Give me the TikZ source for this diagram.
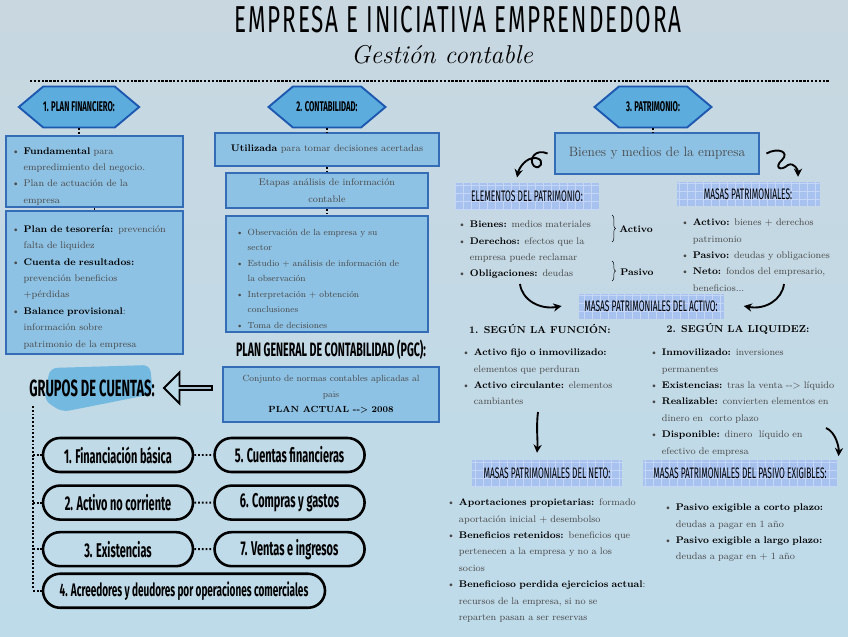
\documentclass[tikz,border=0pt]{standalone}
\usepackage{fontspec}
\usepackage{xcolor}
\usepackage{tikz}
\usetikzlibrary{shapes.geometric, shapes.misc, shapes.arrows, shapes.symbols, arrows.meta, positioning, decorations.pathreplacing}

\newfontfamily\blockfont[FakeStretch=0.55]{Fira Sans}
\newfontfamily\titlefont[FakeStretch=0.6, LetterSpace=5]{Fira Sans}

\definecolor{bgtop}{RGB}{200,215,224}
\definecolor{bgbot}{RGB}{190,219,234}
\definecolor{hexfill}{RGB}{92,172,222}
\definecolor{hexline}{RGB}{28,88,176}
\definecolor{boxfill}{RGB}{142,194,228}
\definecolor{boxline}{RGB}{52,108,182}
\definecolor{tapefill}{RGB}{168,194,240}
\definecolor{tapegrid}{RGB}{198,214,246}
\definecolor{brushblue}{RGB}{84,172,222}
\definecolor{bodytext}{RGB}{72,72,72}

\newcommand{\bk}[1]{\textcolor{black}{\textbf{#1}}}
\newcommand{\bul}[1]{\par\hangindent=10pt\hangafter=1\noindent\makebox[10pt][l]{\textbullet}#1\par}
\newcommand{\bodyfont}{\fontsize{8.2}{14}\selectfont}

\begin{document}
\begin{tikzpicture}[
    x=0.03cm, y=-0.03cm,
    hexa/.style={signal, signal to=west and east, signal pointer angle=80, draw=hexline, line width=1.6pt, fill=hexfill, minimum width=3.51cm, minimum height=1.23cm, inner sep=0pt, font=\blockfont\bfseries\fontsize{12}{12}\selectfont},
    infobox/.style={draw=boxline, line width=1.3pt, fill=boxfill, inner xsep=0.18cm, inner ysep=0pt, align=left, font=\bodyfont, text=bodytext},
    tape/.style={fill=tapefill, minimum height=0.8cm, inner sep=0pt, font=\blockfont\fontsize{13}{13}\selectfont, path picture={\draw[tapegrid, line width=0.7pt, step=0.24cm] (path picture bounding box.south west) grid (path picture bounding box.north east);}},
    pill/.style={rounded rectangle, draw=black, line width=2.2pt, minimum width=4.5cm, minimum height=1.02cm, inner sep=0pt, font=\blockfont\bfseries\fontsize{17}{17}\selectfont},
    listtxt/.style={anchor=north west, inner sep=0pt, align=left, font=\bodyfont, text=bodytext},
    dotline/.style={line width=1.6pt, dash pattern=on 1.6pt off 1.6pt, black},
    curly/.style={line width=1.6pt, -{Stealth[length=7pt, width=7pt]}, black}
]
\useasboundingbox (0,0) rectangle (848,636);
\shade[top color=bgtop, bottom color=bgbot] (0,0) rectangle (848,636);

% title
\node[font=\titlefont\fontsize{32}{32}\selectfont] (title) at (458,20) {EMPRESA E INICIATIVA EMPRENDEDORA};
\node[font=\itshape\fontsize{22}{22}\selectfont] (subtitle) at (442,55) {Gestión contable};
\coordinate (lineL) at (30,81);
\coordinate (lineR) at (830,81);
\draw[line width=2.4pt, dash pattern=on 2pt off 1.3pt] (lineL) -- (lineR);

\node[hexa] (plan) at (79,107) {1. PLAN FINANCIERO:};
\node[hexa] (conta) at (327,107) {2. CONTABILIDAD:};
\node[hexa] (patri) at (653,107) {3. PATRIMONIO:};

% plan financiero
\node[infobox, minimum width=5.31cm, minimum height=2.13cm, text width=4.95cm] (fund) at (94.5,171.5) {\bul{\bk{Fundamental} para\newline empredimiento del negocio.}\bul{Plan de actuación de la\newline empresa}};
\node[infobox, minimum width=5.31cm, minimum height=4.29cm, text width=4.95cm] (teso) at (94.5,282.5) {\bul{\bk{Plan de tesorería:} prevención\newline falta de liquidez}\bul{\bk{Cuenta de resultados:}\newline prevención beneficios\newline +pérdidas}\bul{\bk{Balance provisional}:\newline \ información sobre\newline patrimonio de la empresa}};
\draw[dotline] (plan.south) -- (plan.south |- fund.north);
\draw[dotline] (fund.south) -- (teso.north);

% contabilidad
\node[infobox, align=center, minimum width=6.72cm, minimum height=0.99cm] (util) at (327,149.5) {\bk{Utilizada} para tomar decisiones acertadas};
\node[infobox, align=center, minimum width=6.06cm, minimum height=1.05cm, font=\fontsize{8.2}{15}\selectfont] (etapas) at (327,190.5) {Etapas análisis de información\\contable};
\node[infobox, minimum width=6.06cm, minimum height=3.48cm, inner xsep=0.3cm, text width=5.46cm, font=\fontsize{7.6}{13.2}\selectfont] (pasos) at (327,274) {\bul{Observación de la empresa y su\newline sector}\bul{Estudio + análisis de información de\newline la observación}\bul{Interpretación + obtención\newline conclusiones}\bul{Toma de decisiones}};
\draw[dotline] (conta.south) -- (util.north);
\draw[dotline] (util.south) -- (etapas.north);
\draw[dotline] (etapas.south) -- (pasos.north);

\node[font=\blockfont\bfseries\fontsize{16.5}{16.5}\selectfont] (pgc) at (331,350) {PLAN GENERAL DE CONTABILIDAD (PGC):};
\node[infobox, align=center, minimum width=6.48cm, minimum height=1.65cm, font=\fontsize{7.6}{13.2}\selectfont] (normas) at (331,394.5) {Conjunto de normas contables aplicadas al\\pais\\\bk{PLAN ACTUAL {-}{-}> 2008}};

% grupos de cuentas
\fill[brushblue, opacity=0.7, rounded corners=6pt] (50,368) -- (150,365) -- (153,394) -- (62,412) -- (44,400) -- cycle;
\node[font=\blockfont\bfseries\fontsize{20}{20}\selectfont] (grupos) at (92,388) {GRUPOS DE CUENTAS:};
\node[single arrow, shape border rotate=180, draw=black, line width=1.6pt, fill=bgbot, minimum height=1.44cm, minimum width=0.93cm, single arrow head extend=0.2cm, inner sep=0pt] (grparrow) at (189,388) {};

\coordinate (gtop) at (33,406);
\coordinate (gbot) at (33,588);
\draw[dotline] (gtop) -- (gbot);

\node[pill] (g1) at (118,455) {1. Financiación básica};
\node[pill, below=0.33cm of g1] (g2) {2. Activo no corriente};
\node[pill, below=0.3cm of g2] (g3) {3. Existencias};
\node[pill, right=0.57cm of g1] (g5) {5. Cuentas financieras};
\node[pill, right=0.57cm of g2] (g6) {6. Compras y gastos};
\node[pill, right=0.57cm of g3] (g7) {7. Ventas e ingresos};
\node[pill, minimum width=8.46cm, font=\blockfont\bfseries\fontsize{15.5}{15.5}\selectfont, below=0.15cm of g3.south west, anchor=north west] (g4) {4. Acreedores y deudores por operaciones comerciales};
\foreach \g in {g1,g2,g3,g4}
    \draw[dotline] (gtop |- \g.west) -- (\g.west);
\foreach \a/\b in {g1/g5,g2/g6,g3/g7}
    \draw[dotline] (\a) -- (\b);

% patrimonio
\node[infobox, align=center, minimum width=6.12cm, minimum height=1.23cm, font=\fontsize{11.5}{11.5}\selectfont] (bienes) at (657,153.5) {Bienes y medios de la empresa};
\draw[dotline] (patri.south) -- (patri.south |- bienes.north);

\node[tape, minimum width=4.32cm] (elem) at (527,196) {ELEMENTOS DEL PATRIMONIO:};
\node[tape, minimum width=4.29cm, minimum height=0.72cm] (masas) at (748,194) {MASAS PATRIMONIALES:};
\node[tape, minimum width=4.35cm, minimum height=0.75cm] (activo) at (651,306) {MASAS PATRIMONIALES DEL ACTIVO:};
\node[tape, minimum width=4.5cm] (neto) at (547,473) {MASAS PATRIMONIALES DEL NETO:};
\node[tape, minimum width=5.8cm] (pasivo) at (740,473) {MASAS PATRIMONIALES DEL PASIVO EXIGIBLES:};

\draw[curly] ([xshift=-0.2cm]bienes.west) .. controls (535,148) and (528,160) .. (534,166) .. controls (540,171) and (546,160) .. (536,158) .. controls (526,157) and (519,168) .. ([xshift=-0.3cm,yshift=0.15cm]elem.north);
\draw[curly] ([xshift=0.2cm]bienes.east) .. controls (778,147) and (790,152) .. (782,160) .. controls (774,167) and (780,172) .. (788,165) .. controls (794,162) and (798,170) .. ([xshift=1.5cm,yshift=0.15cm]masas.north);

\node[listtxt, text width=4.6cm] (elemlist) at (458,211) {\bul{\bk{Bienes:} medios materiales}\bul{\bk{Derechos:} efectos que la\newline empresa puede reclamar}\bul{\bk{Obligaciones:} deudas}};
\draw[decorate, decoration={brace, amplitude=3pt}, thin] (612,215) -- (612,242);
\draw[decorate, decoration={brace, amplitude=3pt}, thin] (612,261) -- (612,281);
\node[font=\bodyfont\bfseries] (lblact) at (636,229) {Activo};
\node[font=\bodyfont\bfseries] (lblpas) at (637,272) {Pasivo};

\node[listtxt, text width=4.7cm] (masaslist) at (681,209) {\bul{\bk{Activo:} bienes + derechos\newline patrimonio}\bul{\bk{Pasivo:} deudas y obligaciones}\bul{\bk{Neto:} fondos del empresario,\newline beneficios...}};

\coordinate (la) at (520,284);
\coordinate (ra) at (784,284);
\draw[curly] (la) .. controls (522,300) and (540,310) .. ([xshift=-0.5cm]activo.west);
\draw[curly] (ra) .. controls (782,300) and (765,310) .. ([xshift=0.6cm]activo.east);

% activo
\node[font=\fontsize{8.6}{10}\selectfont\bfseries] (fun) at (540,329) {1. SEGÚN LA FUNCIÓN:};
\node[font=\fontsize{8.6}{10}\selectfont\bfseries] (liq) at (738,329) {2. SEGÚN LA LIQUIDEZ:};
\node[listtxt, text width=4.8cm] (funlist) at (462,339) {\bul{\bk{Activo fijo o inmovilizado:}\newline elementos que perduran}\bul{\bk{Activo circulante:} elementos\newline cambiantes}};
\node[listtxt, text width=6cm] (liqlist) at (650,339) {\bul{\bk{Inmovilizado:} inversiones\newline permanentes}\bul{\bk{Existencias:} tras la venta {-}{-}> líquido}\bul{\bk{Realizable:} convierten elementos en\newline dinero en\ \ corto plazo}\bul{\bk{Disponible:} dinero\ \ líquido en\newline efectivo de empresa}};

\coordinate (fa) at (538,412);
\coordinate (lq) at (826,428);
\draw[curly] (fa) .. controls (536,428) and (538,440) .. ([xshift=-0.3cm,yshift=0.2cm]neto.north);
\draw[curly] (lq) .. controls (836,432) and (839,448) .. ([xshift=0.05cm,yshift=0.1cm]pasivo.north east);

% neto y pasivo
\node[listtxt, text width=6.2cm] (netolist) at (447,489) {\bul{\bk{Aportaciones propietarias:} formado\newline aportación inicial + desembolso}\bul{\bk{Beneficios retenidos:} beneficios que\newline pertenecen a la empresa y no a los\newline socios}\bul{\bk{Beneficioso perdida ejercicios actual}:\newline recursos de la empresa, si no se\newline reparten pasan a ser reservas}};
\node[listtxt, text width=5.3cm] (pasivolist) at (664,494) {\bul{\bk{Pasivo exigible a corto plazo:}\newline deudas a pagar en 1 año}\bul{\bk{Pasivo exigible a largo plazo:}\newline deudas a pagar en + 1 año}};

\end{tikzpicture}
\end{document}
